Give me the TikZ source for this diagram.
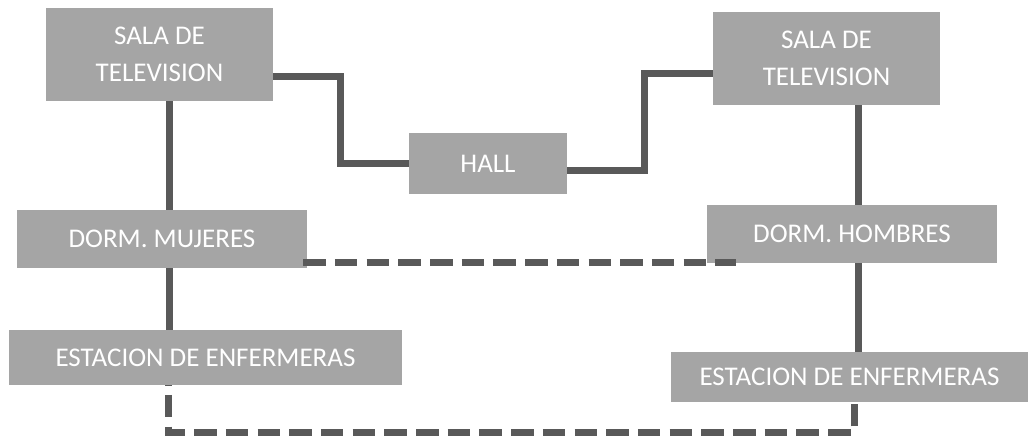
\documentclass[tikz,border=0pt]{standalone}
\usepackage{fontspec}
\setmainfont{Carlito}
\definecolor{boxgray}{HTML}{A5A5A5}
\definecolor{linegray}{HTML}{595959}
\tikzset{
  room/.style={fill=boxgray, text=white, inner sep=0pt, align=center,
    font=\fontsize{27}{37}\selectfont},
  link/.style={draw=linegray, line width=7pt},
  dashlink/.style={link, dash pattern=on 22.5pt off 9.2pt}
}
\begin{document}
\begin{tikzpicture}[x=1pt, y=-1pt]
    % floor plan of the ward
    \useasboundingbox (0,0) rectangle (1036,437);
    \node[room, minimum width=227pt, minimum height=93pt] (salaL) at (159.5,54.5) {SALA DE\\TELEVISION};
    \node[room, minimum width=227pt, minimum height=93pt] (salaR) at (826.5,58.5) {SALA DE\\TELEVISION};
    \node[room, minimum width=158pt, minimum height=61pt] (hall) at (488,163.5) {HALL};
    \node[room, minimum width=290pt, minimum height=58pt] (dormM) at (162,239) {DORM. MUJERES};
    \node[room, minimum width=290pt, minimum height=58pt] (dormH) at (852,234) {DORM. HOMBRES};
    \node[room, minimum width=393pt, minimum height=55pt] (estL) at (205.5,357.5) {ESTACION DE ENFERMERAS};
    \node[room, minimum width=357pt, minimum height=50pt] (estR) at (849.5,377) {ESTACION DE ENFERMERAS};
    % solid corridors
    \draw[link] ([yshift=-21.5pt]salaL.east) -- ++(67,0) |- (hall.west);
    \draw[link] ([yshift=-6.5pt]hall.east) -- ++(77,0) |- ([yshift=-14.5pt]salaR.west);
    \coordinate (a) at ([xshift=9.5pt]salaL.south);
    \draw[link] (a) -- (a |- dormM.north);
    \draw[link] (a |- dormM.south) -- (a |- estL.north);
    \coordinate (b) at ([xshift=32pt]salaR.south);
    \draw[link] (b) -- (b |- dormH.north);
    \draw[link] (b |- dormH.south) -- (b |- estR.north);
    % dashed links
    \coordinate (p) at ([xshift=-4pt,yshift=-23pt]dormM.east);
    \coordinate (q) at ([xshift=29pt]dormH.west);
    \draw[dashlink] (p) -- (p -| q);
    \draw[dashlink, dash phase=22pt] ([xshift=-37.5pt]estL.south) |- ([xshift=4.5pt,yshift=-30pt]estR.south) -- ([xshift=4.5pt]estR.south);
\end{tikzpicture}
\end{document}
